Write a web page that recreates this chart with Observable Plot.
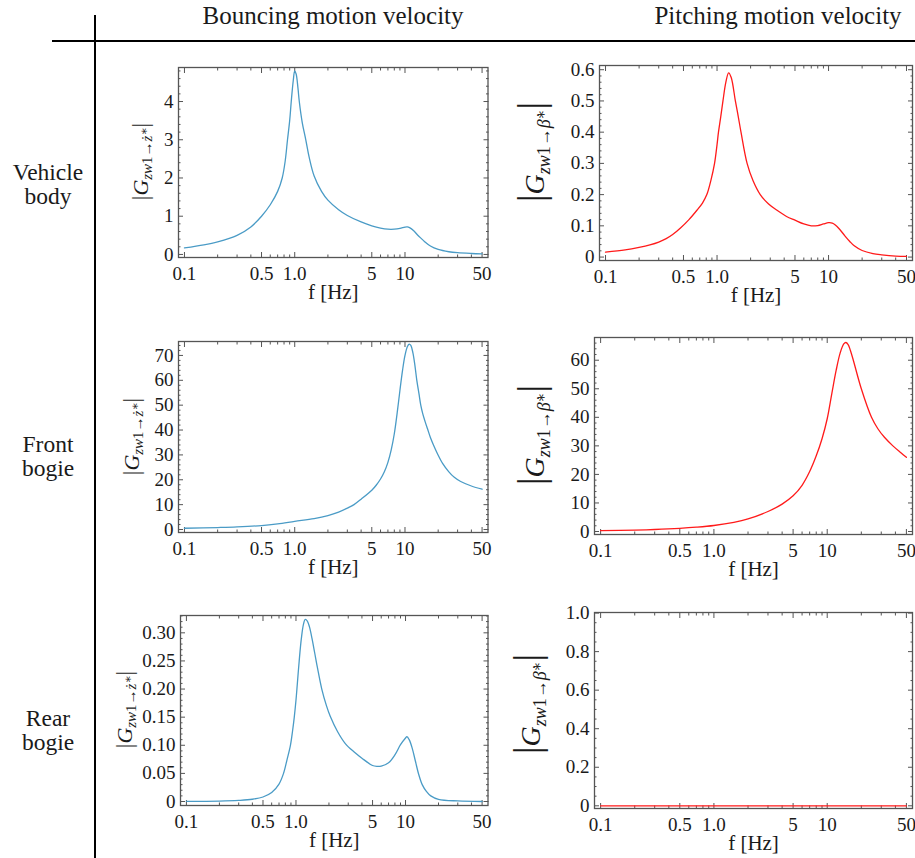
<!DOCTYPE html>
<html><head><meta charset="utf-8">
<script src="https://cdn.jsdelivr.net/npm/d3@7"></script>
<script src="https://cdn.jsdelivr.net/npm/@observablehq/plot@0.6"></script>
<style>
html,body{margin:0;padding:0;background:#fff;}
#root{position:relative;width:915px;height:858px;overflow:hidden;font-family:"Liberation Serif","DejaVu Serif",serif;color:#1a1a1a;}
.hdr{position:absolute;top:3px;font-size:25px;line-height:25px;white-space:nowrap;transform:translateX(-50%);}
.rowlab{position:absolute;left:0;width:96px;font-size:23.5px;line-height:24px;text-align:center;}
.vline{position:absolute;left:94px;top:15px;width:2px;height:843px;background:#000;}
.hline{position:absolute;left:52px;top:40px;width:863px;height:2px;background:#000;}
.panel{position:absolute;}
</style></head><body><div id="root"></div>
<script>
// ---------- data ----------
const columnTitles = ["Bouncing motion velocity", "Pitching motion velocity"];
const rowTitles = [["Vehicle", "body"], ["Front", "bogie"], ["Rear", "bogie"]];
const xAxisLabel = "f [Hz]";
const xTicks = [0.1, 0.5, 1, 5, 10, 50];
const xTickLabels = ["0.1", "0.5", "1.0", "5", "10", "50"];
const xMinorTicks = [0.2, 0.3, 0.4, 0.6, 0.7, 0.8, 0.9, 2, 3, 4, 6, 7, 8, 9, 20, 30, 40];

// Vehicle body – bouncing
const freqBodyBounce = [0.1, 0.15, 0.2, 0.3, 0.4, 0.5, 0.6, 0.7, 0.77, 0.82, 0.86, 0.9, 0.93, 0.97, 1.0, 1.03, 1.07, 1.1, 1.17, 1.26, 1.35, 1.5, 1.75, 2, 2.5, 3, 4, 5, 6, 7, 8, 9, 10, 10.5, 11, 12, 13, 14, 15, 17, 20, 25, 30, 40, 50];
const magBodyBounce = [0.17, 0.25, 0.33, 0.5, 0.72, 1.0, 1.3, 1.65, 2.0, 2.45, 3.0, 3.5, 4.0, 4.55, 4.8, 4.72, 4.35, 4.0, 3.45, 3.0, 2.55, 2.05, 1.65, 1.42, 1.17, 1.02, 0.85, 0.75, 0.69, 0.66, 0.66, 0.68, 0.715, 0.72, 0.70, 0.62, 0.51, 0.42, 0.34, 0.22, 0.13, 0.07, 0.045, 0.025, 0.015];
const yTicksBodyBounce = [0, 1, 2, 3, 4];
const yLabelsBodyBounce = ["0", "1", "2", "3", "4"];

// Vehicle body – pitching
const freqBodyPitch = [0.1, 0.15, 0.2, 0.25, 0.3, 0.35, 0.4, 0.47, 0.56, 0.66, 0.74, 0.81, 0.88, 0.95, 1.0, 1.03, 1.08, 1.13, 1.2, 1.27, 1.34, 1.46, 1.55, 1.64, 1.86, 2.1, 2.44, 2.9, 3.45, 4.2, 5, 6, 7, 8, 9, 10, 10.8, 11.5, 12.5, 14, 15.5, 17, 20, 25, 30, 40, 50];
const magBodyPitch = [0.016, 0.023, 0.031, 0.039, 0.048, 0.059, 0.072, 0.093, 0.12, 0.15, 0.173, 0.2, 0.245, 0.3, 0.36, 0.4, 0.45, 0.5, 0.56, 0.59, 0.575, 0.5, 0.45, 0.4, 0.3, 0.245, 0.2, 0.17, 0.15, 0.13, 0.118, 0.106, 0.1, 0.101, 0.106, 0.11, 0.109, 0.103, 0.09, 0.068, 0.05, 0.036, 0.021, 0.011, 0.007, 0.003, 0.002];
const yTicksBodyPitch = [0, 0.1, 0.2, 0.3, 0.4, 0.5, 0.6];
const yLabelsBodyPitch = ["0", "0.1", "0.2", "0.3", "0.4", "0.5", "0.6"];

// Front bogie – bouncing
const freqFrontBounce = [0.1, 0.2, 0.3, 0.5, 0.7, 1.0, 1.5, 2, 2.5, 3, 3.45, 4, 5, 5.5, 6, 6.5, 7, 7.5, 8, 8.5, 9, 9.5, 10, 10.5, 10.9, 11.3, 11.8, 12.3, 12.8, 13.4, 13.9, 14.5, 15.2, 16, 17, 18, 19.7, 22, 25, 28, 32, 40, 50];
const magFrontBounce = [0.5, 0.8, 1.05, 1.6, 2.3, 3.3, 4.4, 5.6, 7.0, 8.6, 10, 12.2, 15.8, 17.9, 20.3, 23.2, 27, 32, 38.5, 47, 56, 64, 70, 73.5, 74.5, 74, 71, 66, 60, 54.5, 50, 46.5, 43.5, 40.5, 37, 34.3, 30.5, 26.5, 23.2, 21, 19.3, 17.5, 16.2];
const yTicksFrontBounce = [0, 10, 20, 30, 40, 50, 60, 70];
const yLabelsFrontBounce = ["0", "10", "20", "30", "40", "50", "60", "70"];

// Front bogie – pitching
const freqFrontPitch = [0.1, 0.2, 0.3, 0.5, 0.7, 1, 1.5, 2, 3, 4, 5, 6, 7, 8, 9, 10, 11, 12, 13, 14, 14.6, 15.3, 16, 17, 20, 24.6, 28, 32, 38, 45, 50];
const magFrontPitch = [0.3, 0.5, 0.7, 1.1, 1.5, 2.1, 3.2, 4.4, 7, 9.6, 12.5, 16.2, 21, 26.5, 32.5, 39.5, 48.5, 56.5, 62.5, 65.7, 66.2, 65.5, 63.5, 60, 50, 40, 36, 33, 30, 27.5, 26];
const yTicksFrontPitch = [0, 10, 20, 30, 40, 50, 60];
const yLabelsFrontPitch = ["0", "10", "20", "30", "40", "50", "60"];

// Rear bogie – bouncing
const freqRearBounce = [0.1, 0.2, 0.3, 0.4, 0.5, 0.6, 0.7, 0.77, 0.83, 0.89, 0.93, 0.965, 1.0, 1.02, 1.07, 1.12, 1.17, 1.215, 1.27, 1.33, 1.4, 1.48, 1.57, 1.72, 1.9, 2.05, 2.4, 2.82, 3.4, 4, 5, 5.5, 6, 7, 8, 9, 10, 10.3, 10.8, 11.5, 12.3, 13.2, 14.2, 15.5, 17, 20, 30, 50];
const magRearBounce = [0.0003, 0.0008, 0.002, 0.004, 0.008, 0.016, 0.031, 0.05, 0.075, 0.1, 0.125, 0.15, 0.18, 0.2, 0.25, 0.29, 0.315, 0.324, 0.321, 0.31, 0.29, 0.265, 0.238, 0.2, 0.17, 0.152, 0.124, 0.103, 0.088, 0.077, 0.064, 0.0625, 0.063, 0.069, 0.083, 0.101, 0.113, 0.1155, 0.11, 0.095, 0.072, 0.048, 0.03, 0.018, 0.01, 0.004, 0.001, 0.0];
const yTicksRearBounce = [0, 0.05, 0.1, 0.15, 0.2, 0.25, 0.3];
const yLabelsRearBounce = ["0", "0.05", "0.10", "0.15", "0.20", "0.25", "0.30"];

// Rear bogie – pitching
const freqRearPitch = [0.1, 50];
const magRearPitch = [0, 0];
const yTicksRearPitch = [0, 0.2, 0.4, 0.6, 0.8, 1.0];
const yLabelsRearPitch = ["0", "0.2", "0.4", "0.6", "0.8", "1.0"];

// ---------- layout & style ----------
const FONT = "'Liberation Serif', 'DejaVu Serif', serif";
const BLUE = "#4a9bc6", RED = "#ff1a1a";
const xDomain = [0.0883, 56.6];
const panels = [
  {f: freqBodyBounce, v: magBodyBounce, yTicks: yTicksBodyBounce, yLabels: yLabelsBodyBounce, yMinorStep: 0.2, yDomain: [-0.08, 4.89], L: 177.5, R: 487, T: 67, B: 257, color: BLUE, sym: "ż", labX: 147, labY: 161.5, big: false},
  {f: freqBodyPitch, v: magBodyPitch, yTicks: yTicksBodyPitch, yLabels: yLabelsBodyPitch, yMinorStep: 0.02, yDomain: [-0.011, 0.6135], L: 599, R: 912, T: 65, B: 260, color: RED, sym: "β̇", labX: 544, labY: 152, big: true},
  {f: freqFrontBounce, v: magFrontBounce, yTicks: yTicksFrontBounce, yLabels: yLabelsFrontBounce, yMinorStep: 2, yDomain: [-1.2, 75.6], L: 177.5, R: 487, T: 341, B: 532, color: BLUE, sym: "ż", labX: 138, labY: 436.5, big: false},
  {f: freqFrontPitch, v: magFrontPitch, yTicks: yTicksFrontPitch, yLabels: yLabelsFrontPitch, yMinorStep: 2, yDomain: [-1.05, 67.96], L: 594, R: 912, T: 337, B: 534, color: RED, sym: "β̇", labX: 544, labY: 435, big: true},
  {f: freqRearBounce, v: magRearBounce, yTicks: yTicksRearBounce, yLabels: yLabelsRearBounce, yMinorStep: 0.01, yDomain: [-0.0071, 0.3308], L: 179.5, R: 487, T: 615, B: 805, color: BLUE, sym: "ż", labX: 131, labY: 709.5, big: false},
  {f: freqRearPitch, v: magRearPitch, yTicks: yTicksRearPitch, yLabels: yLabelsRearPitch, yMinorStep: 0.05, yDomain: [-0.014, 1.003], L: 594, R: 912, T: 612, B: 808, color: RED, sym: "β̇", labX: 540, labY: 704, big: true}
];
const colCenters = [333, 778];
const rowCenters = [184, 455.5, 729.5];

const root = document.getElementById("root");
root.insertAdjacentHTML("beforeend", '<div class="vline"></div><div class="hline"></div>');
columnTitles.forEach((t, i) => {
  const d = document.createElement("div");
  d.className = "hdr"; d.style.left = colCenters[i] + "px"; d.textContent = t;
  root.appendChild(d);
});
rowTitles.forEach((lines, i) => {
  const d = document.createElement("div");
  d.className = "rowlab"; d.style.top = (rowCenters[i] - 24) + "px";
  d.innerHTML = lines.join("<br>");
  root.appendChild(d);
});

const TICK = "#555";
function minorTicks(step, dom, major) {
  const out = [];
  const n0 = Math.ceil(dom[0] / step), n1 = Math.floor(dom[1] / step);
  for (let n = n0; n <= n1; n++) {
    const t = +(n * step).toFixed(6);
    if (!major.some(m => Math.abs(m - t) < step / 10)) out.push(t);
  }
  return out;
}

panels.forEach(p => {
  const mL = 85, mR = 10, mT = 12, mB = 55;
  const w = p.R - p.L + mL + mR, h = p.B - p.T + mT + mB;
  const data = p.f.map((f, i) => ({f, v: p.v[i]}));
  const yFmt = new Map(p.yTicks.map((t, i) => [t, p.yLabels[i]]));
  const yMinor = minorTicks(p.yMinorStep, p.yDomain, p.yTicks);
  const svg = Plot.plot({
    width: w, height: h, marginLeft: mL, marginRight: mR, marginTop: mT, marginBottom: mB,
    style: {fontFamily: FONT, fontSize: "19px", color: "#1a1a1a", background: "transparent", overflow: "visible"},
    x: {type: "log", domain: xDomain},
    y: {domain: p.yDomain},
    marks: [
      Plot.axisX({anchor: "bottom", ticks: xTicks, tickSize: -5, fill: "none", stroke: TICK, label: null}),
      Plot.axisX({anchor: "bottom", ticks: xMinorTicks, tickSize: -2.5, fill: "none", stroke: TICK, label: null}),
      Plot.axisX({anchor: "top", ticks: xTicks, tickSize: -5, fill: "none", stroke: TICK, label: null}),
      Plot.axisX({anchor: "top", ticks: xMinorTicks, tickSize: -2.5, fill: "none", stroke: TICK, label: null}),
      Plot.text(xTicks, {x: d => d, text: (d, i) => xTickLabels[i], frameAnchor: "bottom", lineAnchor: "top", dy: 9, fontSize: 19, fill: "#1a1a1a"}),
      Plot.axisY({anchor: "left", ticks: p.yTicks, tickSize: -5, tickPadding: 10, tickFormat: d => yFmt.get(d), stroke: TICK, label: null}),
      Plot.axisY({anchor: "left", ticks: yMinor, tickSize: -2.5, fill: "none", stroke: TICK, label: null}),
      Plot.axisY({anchor: "right", ticks: p.yTicks, tickSize: -5, fill: "none", stroke: TICK, label: null}),
      Plot.axisY({anchor: "right", ticks: yMinor, tickSize: -2.5, fill: "none", stroke: TICK, label: null}),
      Plot.frame({stroke: TICK, strokeWidth: 1.3}),
      Plot.line(data, {x: "f", y: "v", stroke: p.color, strokeWidth: 1.3, curve: "catmull-rom"}),
      Plot.text([xAxisLabel], {text: d => d, frameAnchor: "bottom", dy: 35, lineAnchor: "middle", fontSize: 21, fill: "#1a1a1a"})
    ]
  });
  const left = p.L - mL, top = p.T - mT;
  svg.classList.add("panel");
  svg.style.left = left + "px"; svg.style.top = top + "px";
  // y-axis label |G_{zw1→x*}|
  const gSize = p.big ? 28 : 22, barSize = p.big ? 38 : 23, subSize = p.big ? 18 : 15, subDy = p.big ? 6 : 4;
  const t = d3.select(svg).append("text")
    .attr("transform", `translate(${p.labX - left},${p.labY - top}) rotate(-90)`)
    .attr("text-anchor", "middle").attr("font-family", FONT).attr("font-size", gSize).attr("fill", "#1a1a1a");
  t.append("tspan").attr("font-size", barSize).text("|");
  t.append("tspan").attr("font-style", "italic").text("G");
  t.append("tspan").attr("font-size", subSize).attr("font-style", "italic").attr("dy", subDy).text("zw");
  t.append("tspan").attr("font-size", subSize).text("1→");
  t.append("tspan").attr("font-size", subSize).attr("font-style", "italic").text(p.sym);
  t.append("tspan").attr("font-size", subSize * 0.8).attr("dy", -4).text("∗");
  t.append("tspan").attr("font-size", barSize).attr("dy", -(subDy - 4)).text("|");
  root.appendChild(svg);
});
</script></body></html>
